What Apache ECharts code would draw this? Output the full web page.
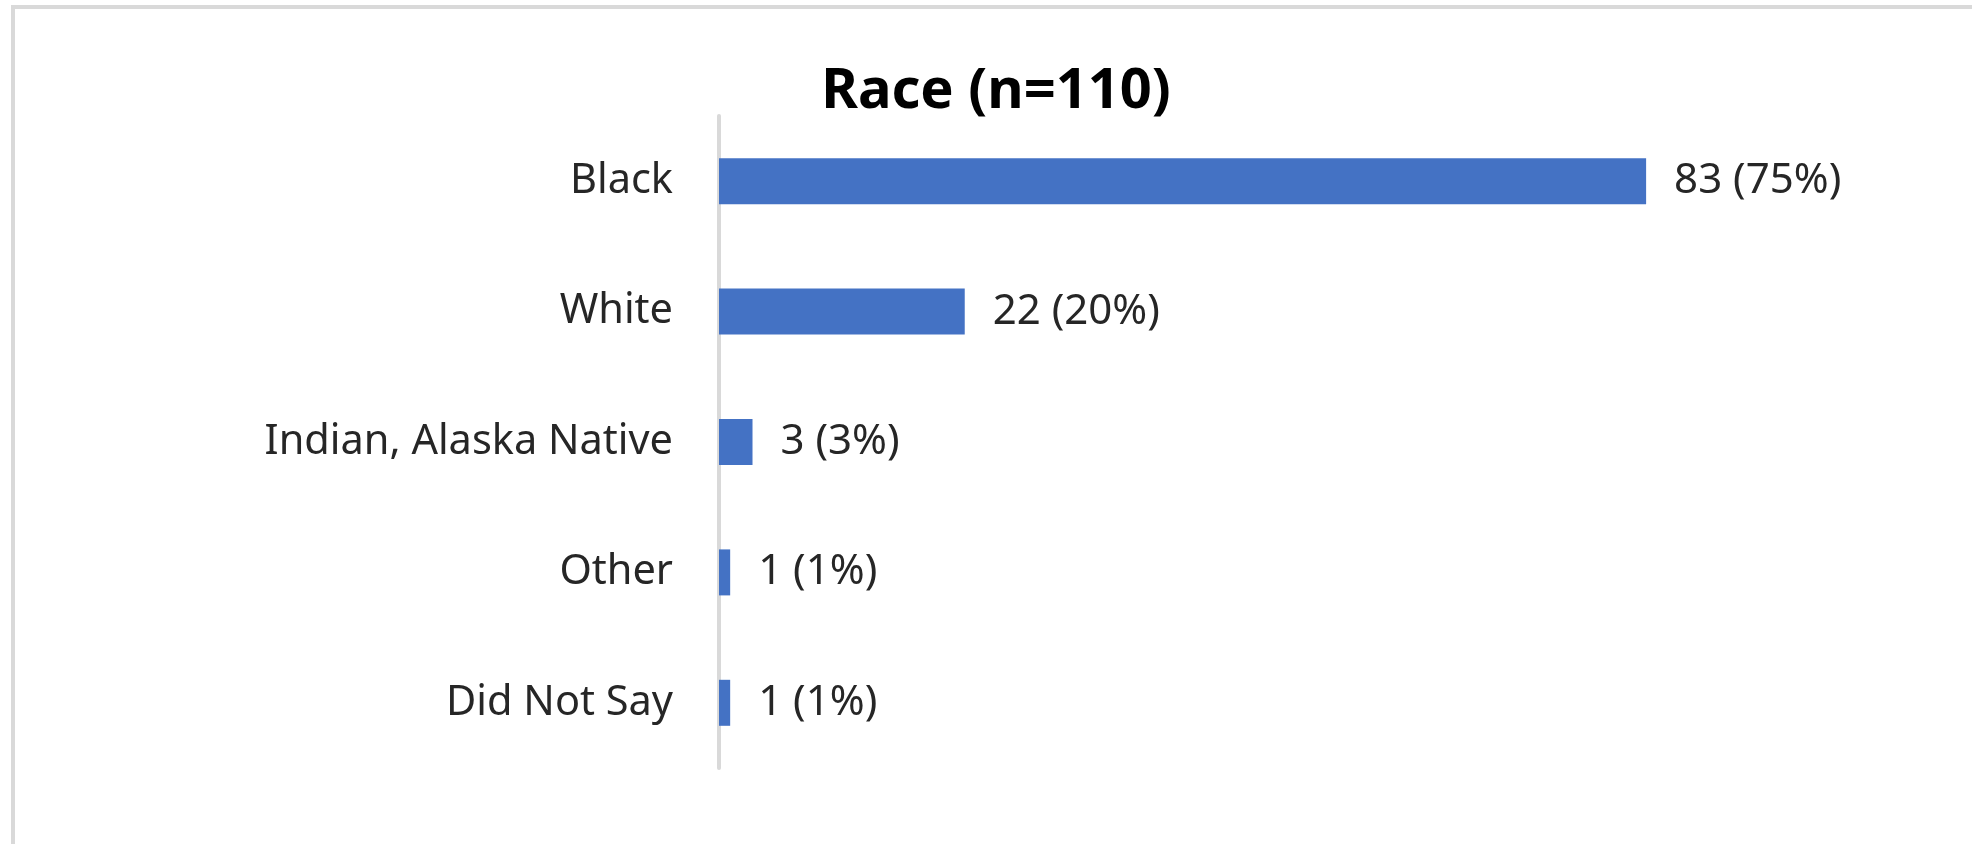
<!DOCTYPE html>
<html>
<head>
<meta charset="utf-8">
<script src="https://cdn.jsdelivr.net/npm/echarts@6/dist/echarts.min.js"></script>
<style>
html,body{margin:0;padding:0;background:#fff;}
#chart{width:1972px;height:844px;}
</style>
</head>
<body>
<div id="chart"></div>
<script>
const titleText = 'Race (n=110)';
const categories = ['Black', 'White', 'Indian, Alaska Native', 'Other', 'Did Not Say'];
const counts = [83, 22, 3, 1, 1];
const percents = [75, 20, 3, 1, 1];

const chart = echarts.init(document.getElementById('chart'), null, {renderer: 'canvas'});
const font = '"Noto Sans", "Open Sans", sans-serif';
chart.setOption({
  animation: false,
  backgroundColor: '#ffffff',
  title: {
    text: titleText,
    left: 991,
    textAlign: 'center',
    top: 59,
    textStyle: {fontFamily: font, fontWeight: 'bold', fontSize: 56, color: '#000000'}
  },
  graphic: [{
    type: 'rect',
    shape: {x: 13, y: 7, width: 2100, height: 1000},
    style: {fill: 'none', stroke: '#d9d9d9', lineWidth: 4},
    silent: true
  }],
  grid: {left: 719, top: 116, width: 1117, height: 652, containLabel: false},
  xAxis: {
    type: 'value', min: 0, max: 100, show: false,
    splitLine: {show: false}
  },
  yAxis: {
    type: 'category', data: categories, inverse: true,
    axisLine: {show: true, lineStyle: {color: '#d9d9d9', width: 4}},
    axisTick: {show: false},
    axisLabel: {fontFamily: font, fontSize: 41.5, color: '#262626', margin: 46}
  },
  series: [{
    type: 'bar',
    data: counts,
    barWidth: 46,
    itemStyle: {color: '#4472C4'},
    label: {
      show: true, position: 'right', distance: 28,
      fontFamily: font, fontSize: 42, color: '#262626',
      formatter: p => counts[p.dataIndex] + ' (' + percents[p.dataIndex] + '%)'
    }
  }]
});
</script>
</body>
</html>
